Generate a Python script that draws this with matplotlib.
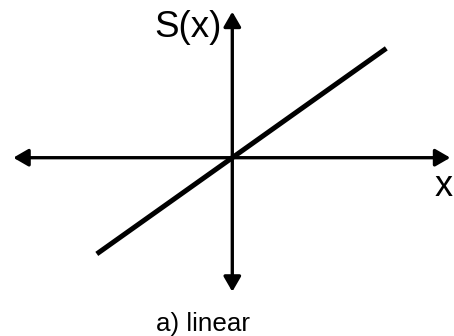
import numpy as np
import matplotlib
matplotlib.use('Agg')
import matplotlib.pyplot as plt

plt.rcParams['font.family'] = ['Liberation Sans', 'DejaVu Sans']

# Linear transfer function S(x) = k*x, drawn on a plain cross of axes
slope = 0.71
x_line = np.array([-1.355, 1.54])
s_line = slope * x_line

# Axis arrow extents (data units)
x_axis = [-2.19, 2.18]
y_axis = [-1.34, 1.46]

ylabel = 'S(x)'
xlabel = 'x'
caption = 'a) linear'

fig = plt.figure(figsize=(4.54, 3.36), dpi=100)
ax = fig.add_axes([0, 0, 1, 1])
ax.set_xlim(-2.323, 2.217)
ax.set_ylim(-1.783, 1.577)
ax.axis('off')

arrow = dict(arrowstyle='<|-|>,head_length=0.45,head_width=0.26',
             color='black', lw=2.4, shrinkA=0, shrinkB=0, mutation_scale=20)
ax.annotate('', xy=(x_axis[1], 0), xytext=(x_axis[0], 0), arrowprops=arrow)
ax.annotate('', xy=(0, y_axis[1]), xytext=(0, y_axis[0]), arrowprops=arrow)

ax.plot(x_line, s_line, color='black', lw=3.6, solid_capstyle='butt')

ax.text(-0.11, 1.30, ylabel, fontsize=26.5, ha='right', va='center')
ax.text(2.115, -0.29, xlabel, fontsize=26, ha='center', va='center')
ax.text(-0.29, -1.735, caption, fontsize=18.7, ha='center', va='baseline')

fig.savefig('out.png', dpi=100)
